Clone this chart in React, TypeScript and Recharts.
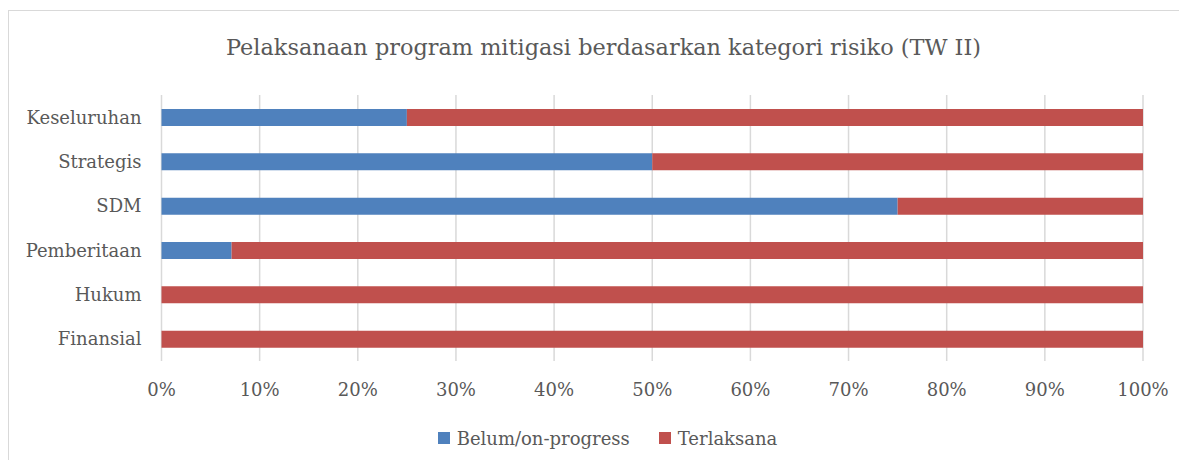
import React from "react";
import { BarChart, Bar, XAxis, YAxis, CartesianGrid, Legend } from "recharts";

const categories = ["Keseluruhan", "Strategis", "SDM", "Pemberitaan", "Hukum", "Finansial"];
const belum = [25, 50, 75, 7.14, 0, 0];
const terlaksana = [75, 50, 25, 92.86, 100, 100];
const xTicks = [0, 10, 20, 30, 40, 50, 60, 70, 80, 90, 100];
const seriesNames = ["Belum/on-progress", "Terlaksana"];
const colors = ["#4F81BD", "#C0504D"];
const title = "Pelaksanaan program mitigasi berdasarkan kategori risiko (TW II)";

const data = categories.map((name, i) => ({ name, belum: belum[i], terlaksana: terlaksana[i] }));

const FONT = "'DejaVu Serif', serif";
const TEXT = "#595959";

const renderLegend = () => (
  <div
    style={{
      display: "flex",
      justifyContent: "center",
      alignItems: "center",
      paddingLeft: 64,
      height: 24,
      fontFamily: FONT,
      fontSize: 18,
      color: TEXT,
    }}
  >
    {seriesNames.map((n, i) => (
      <div key={n} style={{ display: "flex", alignItems: "center", marginLeft: i ? 29 : 0 }}>
        <span style={{ width: 12, height: 12, background: colors[i], display: "inline-block", marginRight: 7 }} />
        <span>{n}</span>
      </div>
    ))}
  </div>
);

export default function App() {
  return (
    <div
      style={{
        position: "relative",
        width: 1179,
        height: 460,
        marginBottom: -8,
        overflow: "hidden",
        background: "#fff",
      }}
    >
      <div
        style={{
          position: "absolute",
          left: 0,
          top: 2,
          width: 1400,
          height: 1000,
          border: "1.5px solid #d9d9d9",
          boxSizing: "border-box",
        }}
      />
      <svg style={{ position: "absolute", left: 0, top: 0 }} width={1179} height={80}>
        <text x={595.5} y={46.5} textAnchor="middle" fontFamily={FONT} fontSize={22.4} fill={TEXT}>
          {title}
        </text>
      </svg>
      <div style={{ position: "absolute", left: 0, top: 0 }}>
        <BarChart
          width={1179}
          height={452}
          data={data}
          layout="vertical"
          margin={{ top: 87, right: 44, bottom: 10, left: 0 }}
          barSize={17}
        >
          <CartesianGrid horizontal={false} stroke="#d9d9d9" strokeWidth={1.5} />
          <XAxis
            type="number"
            domain={[0, 100]}
            ticks={xTicks}
            tickFormatter={(v: number) => `${v}%`}
            axisLine={false}
            tickLine={false}
            tickSize={0}
            tickMargin={22}
            height={65}
            interval={0}
            tick={{ fontFamily: FONT, fontSize: 18, fill: TEXT }}
          />
          <YAxis
            type="category"
            dataKey="name"
            width={153.5}
            axisLine={false}
            tickLine={false}
            tickSize={0}
            tickMargin={20}
            interval={0}
            tick={{ fontFamily: FONT, fontSize: 18, fill: TEXT }}
          />
          <Legend verticalAlign="bottom" content={renderLegend} />
          <Bar dataKey="belum" name={seriesNames[0]} stackId="a" fill={colors[0]} isAnimationActive={false} />
          <Bar dataKey="terlaksana" name={seriesNames[1]} stackId="a" fill={colors[1]} isAnimationActive={false} />
        </BarChart>
      </div>
    </div>
  );
}
